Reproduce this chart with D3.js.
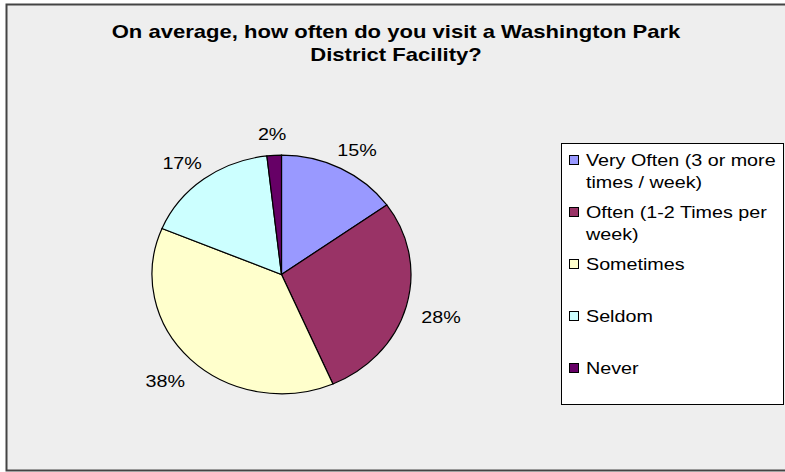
<!DOCTYPE html>
<html>
<head>
<meta charset="utf-8">
<script src="https://cdn.jsdelivr.net/npm/d3@7"></script>
<style>
  html, body { margin: 0; padding: 0; background: #ffffff; }
  svg { display: block; }
  text { font-family: "Liberation Sans", Arial, sans-serif; fill: #000; }
</style>
</head>
<body>
<svg id="chart" width="785" height="472"></svg>
<script>
// ---- data ----
const titleLines = ["On average, how often do you visit a Washington Park", "District Facility?"];
const categories = [
  "Very Often (3 or more times / week)",
  "Often (1-2 Times per week)",
  "Sometimes",
  "Seldom",
  "Never"
];
const values = [15.1, 28.4, 37.8, 16.9, 1.8];
const colors = ["#9999FF", "#993366", "#FFFFCC", "#CCFFFF", "#660066"];

// ---- layout ----
const W = 785, H = 472;
const stretch = 1.16;           // horizontal text stretch of the original render
const cx = 281.5, cy = 274.5, rx = 129.5, ry = 119.3;

const svg = d3.select("#chart");

function stretchText(sel) {
  sel.each(function () {
    const n = this.getComputedTextLength();
    d3.select(this).attr("textLength", n * stretch).attr("lengthAdjust", "spacingAndGlyphs");
  });
}

// frame
svg.append("rect")
  .attr("x", 6.5).attr("y", 4.5)
  .attr("width", 800).attr("height", 466)
  .attr("fill", "#eeeeee")
  .attr("stroke", "#444444").attr("stroke-width", 2);

// title
svg.append("g").selectAll("text").data(titleLines).join("text")
  .attr("x", 396).attr("y", (d, i) => 38 + i * 23)
  .attr("text-anchor", "middle")
  .attr("font-size", 19).attr("font-weight", "bold")
  .text(d => d)
  .call(stretchText);

// pie
const pie = d3.pie().sort(null).value(d => d.v).startAngle(0).endAngle(2 * Math.PI);
const arcs = pie(values.map((v, i) => ({ v, i })));
const arc = d3.arc().innerRadius(0).outerRadius(ry);

const gPie = svg.append("g")
  .attr("transform", `translate(${cx},${cy}) scale(${rx / ry},1)`);
gPie.selectAll("path").data(arcs).join("path")
  .attr("d", arc)
  .attr("fill", d => colors[d.data.i])
  .attr("stroke", "#000").attr("stroke-width", 1.2)
  .attr("vector-effect", "non-scaling-stroke");

// percentage labels
const total = d3.sum(values);
const lrx = rx + 36, lry = ry + 25, loy = 4;
svg.append("g").selectAll("text").data(arcs).join("text")
  .attr("x", d => cx + lrx * Math.sin((d.startAngle + d.endAngle) / 2))
  .attr("y", d => cy + loy - lry * Math.cos((d.startAngle + d.endAngle) / 2))
  .attr("dy", "0.35em")
  .attr("text-anchor", "middle")
  .attr("font-size", 17)
  .text(d => Math.round(d.data.v / total * 100) + "%")
  .call(stretchText);

// legend
const lg = svg.append("g");
lg.append("rect")
  .attr("x", 561.5).attr("y", 143.5).attr("width", 222).attr("height", 261)
  .attr("fill", "#ffffff").attr("stroke", "#000").attr("stroke-width", 1);

const maxW = 194;
const measurer = svg.append("text").attr("font-size", 17).attr("visibility", "hidden");
function wrap(str) {
  const words = str.split(" ");
  const lines = [];
  let cur = "";
  words.forEach(w => {
    const test = cur ? cur + " " + w : w;
    measurer.text(test);
    if (measurer.node().getComputedTextLength() * stretch > maxW && cur) {
      lines.push(cur); cur = w;
    } else cur = test;
  });
  lines.push(cur);
  return lines;
}

const slot = 52, firstY = 160, lineH = 22;
categories.forEach((c, i) => {
  const yc = firstY + i * slot;
  lg.append("rect")
    .attr("x", 569.5).attr("y", yc - 4.5).attr("width", 9).attr("height", 9)
    .attr("fill", colors[i]).attr("stroke", "#000").attr("stroke-width", 1);
  wrap(c).forEach((line, j) => {
    lg.append("text")
      .attr("x", 586).attr("y", yc + j * lineH)
      .attr("dy", "0.36em")
      .attr("font-size", 17)
      .text(line)
      .call(stretchText);
  });
});
measurer.remove();
</script>
</body>
</html>
